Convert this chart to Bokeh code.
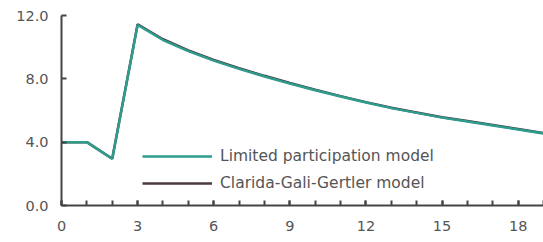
from bokeh.plotting import figure
from bokeh.models import Range1d, SingleIntervalTicker, FixedTicker, Legend, LegendItem, NumeralTickFormatter
from bokeh.embed import file_html
from bokeh.resources import INLINE

periods = list(range(0, 20))
limited = [4.0, 4.0, 2.95, 11.4, 10.45, 9.75, 9.15, 8.63, 8.15, 7.7, 7.28, 6.88, 6.5,
           6.15, 5.85, 5.55, 5.3, 5.05, 4.8, 4.55]
cgg = [4.0, 4.0, 2.95, 11.45, 10.5, 9.79, 9.19, 8.67, 8.19, 7.74, 7.31, 6.91, 6.53,
       6.18, 5.88, 5.58, 5.33, 5.08, 4.83, 4.58]
y_ticks = [0, 4, 8, 12]
labels = ["Limited participation model", "Clarida-Gali-Gertler model"]

TEAL = "#2e9c8c"
DARK = "#4a3a40"
AX = "#444444"
TXT = "#555555"
FONT = "DejaVu Sans"

p = figure(width=543, height=242, output_backend="svg", toolbar_location=None,
           x_range=Range1d(0, 19), y_range=Range1d(0, 12),
           min_border_left=61, min_border_right=0, min_border_top=15, min_border_bottom=37)
p.outline_line_color = None
p.grid.grid_line_color = None
p.background_fill_color = "white"

r2 = p.line(periods, cgg, line_color=DARK, line_width=2.5)
r1 = p.line(periods, limited, line_color=TEAL, line_width=2.5)

p.xaxis.ticker = SingleIntervalTicker(interval=3, num_minor_ticks=3)
p.yaxis.ticker = FixedTicker(ticks=y_ticks)
p.yaxis.formatter = NumeralTickFormatter(format="0.0")
for ax in (p.xaxis[0], p.yaxis[0]):
    ax.axis_line_color = AX
    ax.axis_line_width = 2
    ax.major_tick_line_color = AX
    ax.minor_tick_line_color = AX
    ax.major_tick_line_width = 2
    ax.minor_tick_line_width = 2
    ax.major_tick_in = 5
    ax.major_tick_out = 0
    ax.minor_tick_in = 5
    ax.minor_tick_out = 0
    ax.major_label_text_font = FONT
    ax.major_label_text_font_size = "14.5px"
    ax.major_label_text_color = TXT
p.yaxis.minor_tick_line_color = None
p.xaxis.major_label_standoff = 15
p.yaxis.major_label_standoff = 13

legend = Legend(items=[LegendItem(label=labels[0], renderers=[r1]),
                       LegendItem(label=labels[1], renderers=[r2])],
                location=(81, 12), orientation="vertical",
                glyph_width=70, glyph_height=20, label_height=20, spacing=7,
                padding=0, margin=0, label_standoff=8,
                label_text_font=FONT, label_text_font_size="15.5px",
                label_text_color=TXT,
                border_line_color=None, background_fill_alpha=0)
p.add_layout(legend)

open("out.html", "w").write(file_html(p, INLINE))
